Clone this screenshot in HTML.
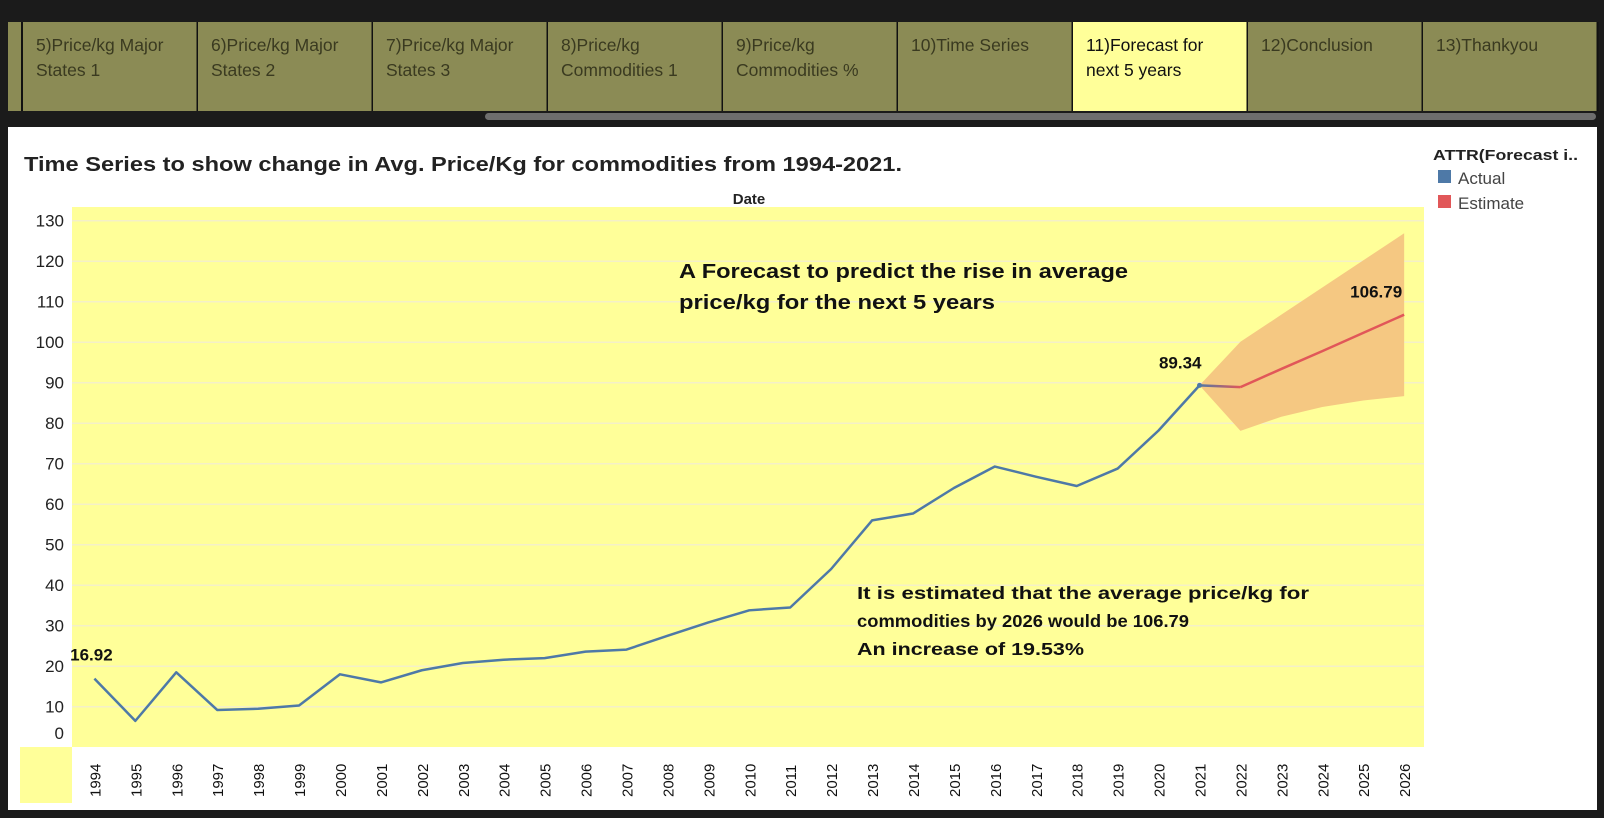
<!DOCTYPE html>
<html><head><meta charset="utf-8"><style>
html,body{margin:0;padding:0;background:#1b1b1b;width:1604px;height:818px;overflow:hidden}
svg{display:block}
text{font-family:"Liberation Sans",sans-serif}
</style></head><body>
<svg id="root" width="1604" height="818" viewBox="0 0 1604 818" xmlns="http://www.w3.org/2000/svg">
<defs><linearGradient id="trans" x1="0" x2="1" y1="0" y2="0"><stop offset="0" stop-color="#4e79a7"/><stop offset="1" stop-color="#e15759"/></linearGradient></defs>
<rect x="0" y="0" width="1604" height="818" fill="#1b1b1b"/>
<g id="tabs"></g>
<rect x="485" y="113" width="1111" height="7" rx="3.5" fill="#6e6e6e"/>
<rect x="8" y="127" width="1589" height="683" fill="#ffffff"/>
<text x="24" y="171" font-size="20" font-weight="bold" fill="#222" textLength="878" lengthAdjust="spacingAndGlyphs">Time Series to show change in Avg. Price/Kg for commodities from 1994-2021.</text>
<text x="749" y="204" font-size="15" font-weight="bold" fill="#222" text-anchor="middle">Date</text>
<rect x="72" y="207" width="1352" height="540" fill="#ffff99"/>
<rect x="20" y="747" width="52" height="56" fill="#ffff99"/>
<g id="grid"></g>
<g id="yticks"></g>
<g id="xticks"></g>
<g id="marks"></g>
<text font-size="20" font-weight="bold" fill="#111"><tspan x="679" y="278" textLength="449" lengthAdjust="spacingAndGlyphs">A Forecast to predict the rise in average</tspan><tspan x="679" y="309" textLength="316" lengthAdjust="spacingAndGlyphs">price/kg for the next 5 years</tspan></text>
<text font-size="17.5" font-weight="bold" fill="#111"><tspan x="857" y="599" textLength="452" lengthAdjust="spacingAndGlyphs">It is estimated that the average price/kg for</tspan><tspan x="857" y="627" textLength="332" lengthAdjust="spacingAndGlyphs">commodities by 2026 would be 106.79</tspan><tspan x="857" y="655" textLength="227" lengthAdjust="spacingAndGlyphs">An increase of 19.53%</tspan></text>
<text x="1433" y="160" font-size="15" font-weight="bold" fill="#222" textLength="145" lengthAdjust="spacingAndGlyphs">ATTR(Forecast i..</text>
<rect x="1438" y="170" width="13" height="13" fill="#4e79a7"/>
<text x="1458" y="184" font-size="17" fill="#444">Actual</text>
<rect x="1438" y="195" width="13" height="13" fill="#e15759"/>
<text x="1458" y="209" font-size="17" fill="#444">Estimate</text>
</svg>
<script>
const tabLabels=[["5)Price/kg Major","States 1"],["6)Price/kg Major","States 2"],["7)Price/kg Major","States 3"],["8)Price/kg","Commodities 1"],["9)Price/kg","Commodities %"],["10)Time Series",""],["11)Forecast for","next 5 years"],["12)Conclusion",""],["13)Thankyou",""]];
const activeTab=6;
const actualYears=[1994,1995,1996,1997,1998,1999,2000,2001,2002,2003,2004,2005,2006,2007,2008,2009,2010,2011,2012,2013,2014,2015,2016,2017,2018,2019,2020,2021];
const actualValues=[16.92,6.5,18.5,9.2,9.5,10.3,18,16,19,20.8,21.6,22,23.6,24.1,27.5,30.8,33.8,34.5,44,56,57.7,64,69.3,66.8,64.5,68.8,78.2,89.34];
const estYears=[2021,2022,2023,2024,2025,2026];
const estValues=[89.34,88.9,93.4,97.8,102.3,106.79];
const bandUpper=[89.34,100.1,106.8,113.5,120.2,126.9];
const bandLower=[89.34,78.1,81.6,84,85.6,86.7];
const yTicks=[0,10,20,30,40,50,60,70,80,90,100,110,120,130];
const xTickYears=[];for(let y=1994;y<=2026;y++)xTickYears.push(y);
const valueLabels=[["16.92",1994,16.92],["89.34",2021,89.34],["106.79",2026,106.79]];

const NS="http://www.w3.org/2000/svg";
function mk(t,a,p){const e=document.createElementNS(NS,t);for(const k in a)e.setAttribute(k,a[k]);p.appendChild(e);return e;}
const xS=y=>94.4+(y-1994)*40.93;
const yS=v=>747.2-v*4.05;

const tabs=document.getElementById('tabs');
mk('rect',{x:8,y:22,width:1590,height:89,fill:'#8b8b55'},tabs);
mk('line',{x1:22,y1:22,x2:22,y2:111,stroke:'#111','stroke-width':2},tabs);
tabLabels.forEach((l,i)=>{
  const x=23+i*175;
  const r=mk('rect',{x:x,y:22,width:174,height:89,fill:i===activeTab?'#ffff99':'#8b8b55'},tabs);
  
  
  mk('line',{x1:x+174.5,y1:22,x2:x+174.5,y2:111,stroke:'#111','stroke-width':2},tabs);
  const col=i===activeTab?'#111':'#3a3a20';
  const t=mk('text',{x:x+13,y:51,'font-size':17.5,fill:col},tabs);
  
  
  t.textContent=l[0];
  if(l[1]){const t2=mk('text',{x:x+13,y:76,'font-size':17.5,fill:col},tabs);t2.textContent=l[1];
    
    }
});

const grid=document.getElementById('grid'),yt=document.getElementById('yticks');
yTicks.forEach(v=>{
  if(v>0){const g=mk('line',{x1:72,x2:1424,y1:yS(v),y2:yS(v),stroke:'#f4f0c8','stroke-width':1.5},grid);
  
  }
  const ty=v===0?yS(v)-8:yS(v)+6;
  const t=mk('text',{x:64,y:ty,'font-size':17,'text-anchor':'end',fill:'#222'},yt);
  
  
  t.textContent=v;
});
const xt=document.getElementById('xticks');
xTickYears.forEach(y=>{
  const t=mk('text',{x:0,y:0,'font-size':15,fill:'#111','font-family':'DejaVu Sans, sans-serif',transform:`translate(${xS(y)+6},797) rotate(-90)`},xt);
  
  
  t.textContent=y;
});

const marks=document.getElementById('marks');
let bp=estYears.map((y,i)=>xS(y)+','+yS(bandUpper[i])).concat(estYears.map((y,i)=>xS(y)+','+yS(bandLower[i])).reverse());
const band=mk('polygon',{points:bp.join(' '),fill:'#f5c882'},marks);


const a=mk('polyline',{points:actualYears.map((y,i)=>xS(y)+','+yS(actualValues[i])).join(' '),fill:'none',stroke:'#4e79a7','stroke-width':2.5,'stroke-linejoin':'round'},marks);


const tr=mk('line',{x1:xS(estYears[0]),y1:yS(estValues[0]),x2:xS(estYears[1]),y2:yS(estValues[1]),stroke:'url(#trans)','stroke-width':2.5},marks);


const e=mk('polyline',{points:estYears.slice(1).map((y,i)=>xS(y)+','+yS(estValues[i+1])).join(' '),fill:'none',stroke:'#e15759','stroke-width':2.5},marks);


const dot=mk('circle',{cx:xS(2021),cy:yS(89.34),r:2.5,fill:'#4e79a7'},marks);


valueLabels.forEach(([s,y,v])=>{
  const t=mk('text',{x:xS(y)-3,y:yS(v)-18,'font-size':17,'font-weight':'bold','text-anchor':y===1994?'middle':'end',fill:'#111'},marks);
  if(y===2021){t.setAttribute('x',xS(y)+2);t.setAttribute('y',yS(v)-17);}
  if(y===2026){t.setAttribute('x',xS(y)-2);t.setAttribute('y',yS(v)-17);}
  
  
  t.textContent=s;
});
</script>
</body></html>
